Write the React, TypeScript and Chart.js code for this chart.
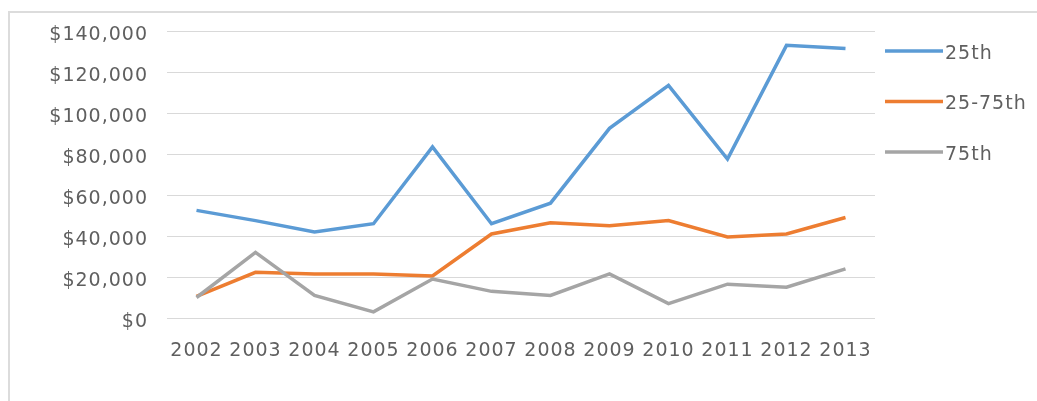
import React, { useEffect, useRef } from "react";
import { Chart, registerables } from "chart.js";

Chart.register(...registerables);

// Years on the category axis
const years = ["2002", "2003", "2004", "2005", "2006", "2007", "2008", "2009", "2010", "2011", "2012", "2013"];

// Series values (US dollars)
const p25 = [52500, 47500, 42000, 46000, 83500, 46000, 56000, 92500, 113500, 77500, 133000, 131500];
const p25to75 = [10500, 22300, 21500, 21500, 20500, 41000, 46500, 45000, 47500, 39500, 41000, 49000];
const p75 = [10000, 32000, 11000, 3000, 19000, 13000, 11000, 21500, 7000, 16500, 15000, 24000];

const seriesLabels = ["25th", "25-75th", "75th"];
const seriesColors = ["#5B9BD5", "#ED7D31", "#A5A5A5"];

// Value axis range
const yMin = 0;
const yMax = 140000;
const yStep = 20000;

const FONT_FAMILY = "'DejaVu Sans', sans-serif";
const FONT_SIZE = 19;
const TEXT_COLOR = "#5F5F5F";
const LETTER_SPACING = "1px";

const CANVAS_W = 1027;
const CANVAS_H = 388;

const formatDollars = (v: number) => "$" + v.toLocaleString("en-US");

// Keeps the wide, tracked-out look of the axis text
const spacingPlugin = {
  id: "letterSpacing",
  beforeUpdate(chart: any) {
    chart.ctx.letterSpacing = LETTER_SPACING;
  },
  beforeDraw(chart: any) {
    chart.ctx.letterSpacing = LETTER_SPACING;
  },
};

// Legend to the right of the plot: a line sample followed by the series name
const sideLegendPlugin = {
  id: "sideLegend",
  afterDraw(chart: any) {
    const { ctx, chartArea } = chart;
    ctx.save();
    ctx.letterSpacing = LETTER_SPACING;
    chart.data.datasets.forEach((ds: any, i: number) => {
      const y = chartArea.top + 20 + i * 50.5;
      const x0 = chartArea.right + 10;
      ctx.beginPath();
      ctx.lineWidth = 3.5;
      ctx.strokeStyle = ds.borderColor;
      ctx.lineCap = "butt";
      ctx.moveTo(x0, y);
      ctx.lineTo(x0 + 58, y);
      ctx.stroke();
      ctx.font = `${FONT_SIZE}px ${FONT_FAMILY}`;
      ctx.fillStyle = TEXT_COLOR;
      ctx.textAlign = "left";
      ctx.textBaseline = "middle";
      ctx.fillText(ds.label, x0 + 60, y + 3);
    });
    ctx.restore();
  },
};

export default function App() {
  const canvasRef = useRef<HTMLCanvasElement | null>(null);

  useEffect(() => {
    if (!canvasRef.current) return;
    const seriesData = [p25, p25to75, p75];
    const chart = new Chart(canvasRef.current, {
      type: "line",
      data: {
        labels: years,
        datasets: seriesData.map((values, i) => ({
          label: seriesLabels[i],
          data: values,
          borderColor: seriesColors[i],
          backgroundColor: seriesColors[i],
          borderWidth: 3.5,
          pointRadius: 0,
          pointHoverRadius: 0,
          tension: 0,
          fill: false,
          order: 2 - i,
        })),
      },
      options: {
        responsive: false,
        animation: false,
        devicePixelRatio: 1,
        layout: {
          padding: { top: 18, right: 162, bottom: 0, left: 0 },
        },
        plugins: {
          legend: { display: false },
          tooltip: { enabled: false },
        },
        scales: {
          x: {
            offset: true,
            grid: { display: false, drawTicks: false },
            border: { display: false },
            ticks: {
              autoSkip: false,
              maxRotation: 0,
              padding: 22,
              color: TEXT_COLOR,
              font: { family: FONT_FAMILY, size: FONT_SIZE },
            },
            afterFit(scale: any) {
              scale.height = 83;
            },
          },
          y: {
            min: yMin,
            max: yMax,
            grid: { color: "#D9D9D9", lineWidth: 1, drawTicks: false },
            border: { display: false },
            ticks: {
              stepSize: yStep,
              padding: 19,
              labelOffset: 4,
              color: TEXT_COLOR,
              font: { family: FONT_FAMILY, size: FONT_SIZE },
              callback: (v: any) => formatDollars(Number(v)),
            },
            afterFit(scale: any) {
              scale.width = 157;
              // the plot's top/bottom margins are set by the layout padding
              scale.paddingTop = 0;
              scale.paddingBottom = 0;
            },
          },
        },
      },
      plugins: [spacingPlugin, sideLegendPlugin],
    });
    return () => chart.destroy();
  }, []);

  return (
    <div
      style={{
        position: "fixed",
        left: 8,
        top: 11,
        right: 0,
        bottom: 0,
        borderTop: "2px solid #DCDCDC",
        borderLeft: "2px solid #DCDCDC",
        background: "#FFFFFF",
        overflow: "hidden",
      }}
    >
      <canvas
        ref={canvasRef}
        width={CANVAS_W}
        height={CANVAS_H}
        style={{ display: "block", width: CANVAS_W, height: CANVAS_H }}
      />
    </div>
  );
}
